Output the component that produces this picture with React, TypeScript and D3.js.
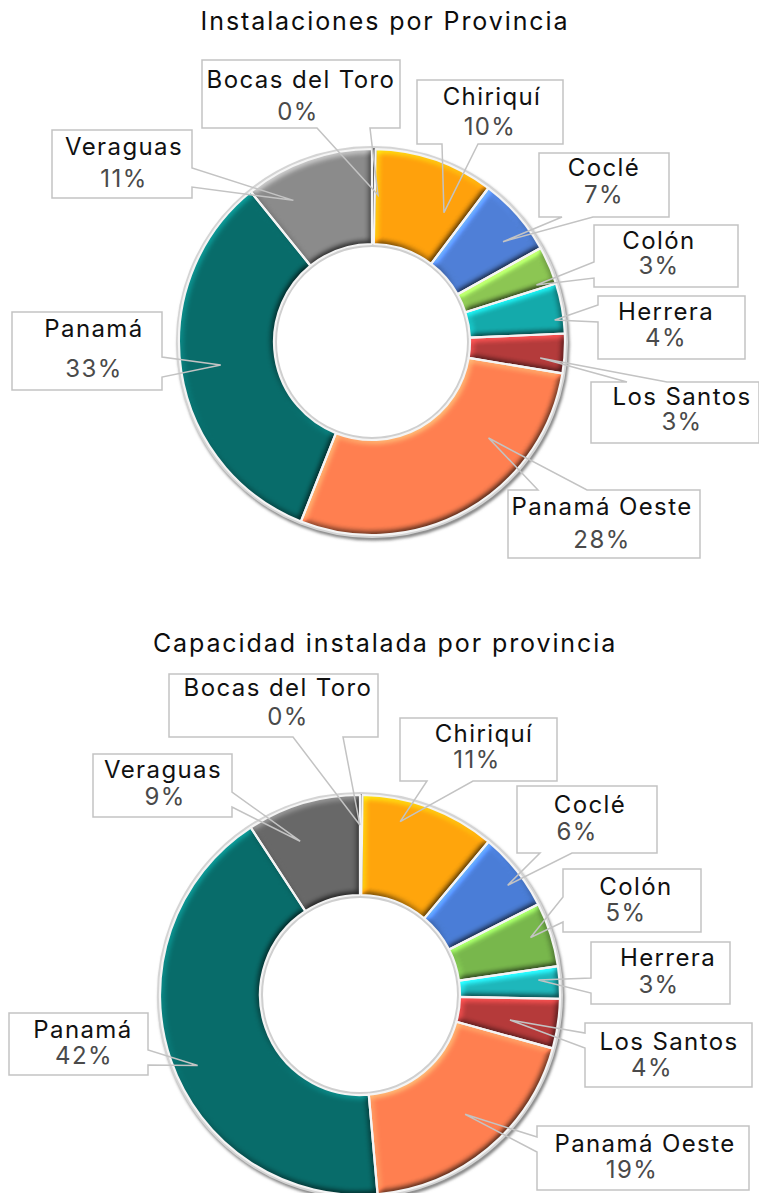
import React from 'react';
import * as d3 from 'd3';

// ---- data ----
const provinces = ['Bocas del Toro', 'Chiriquí', 'Coclé', 'Colón', 'Herrera', 'Los Santos', 'Panamá Oeste', 'Panamá', 'Veraguas'];
const installShares = [0.3, 10.0, 6.6, 3.2, 4.2, 3.3, 28.4, 33.2, 10.8];
const capacityShares = [0.2, 10.9, 6.4, 5.2, 2.6, 4.0, 19.3, 42.2, 9.2];
const chartTitles = ['Instalaciones por Provincia', 'Capacidad instalada por provincia'];

// ---- styles / layout ----
const colorsTop = ['#555555', '#ffa10c', '#4f7fd6', '#8cc653', '#14aaab', '#b43b3b', '#ff7f50', '#086c6a', '#8b8b8b'];
const colorsBottom = ['#4a4a4a', '#ffa50c', '#4a7dd6', '#78b74c', '#1eb7bb', '#b53a3a', '#ff7f50', '#086c6a', '#686868'];

type Lab = { box: number[]; side: string; base: number[]; nx: number; ny: number; px: number; py: number; da: number; rt: number };

const layoutTop: Lab[] = [
  { box: [202, 60, 198, 68], side: 'bottom', base: [317, 370], nx: 301, ny: 88, px: 298, py: 120, da: 1.8, rt: 147 },
  { box: [417, 80, 146, 64], side: 'bottom', base: [442, 478], nx: 492, ny: 105, px: 490, py: 135, da: 10, rt: 148 },
  { box: [539, 153, 130, 64], side: 'bottom', base: [562, 593], nx: 604, ny: 176, px: 604, py: 203, da: 3.6, rt: 165 },
  { box: [594, 225, 144, 62], side: 'left', base: [262, 278], nx: 659, ny: 249, px: 659, py: 274, da: 4.3, rt: 174 },
  { box: [598, 296, 147, 63], side: 'left', base: [305, 322], nx: 666, ny: 320, px: 666, py: 346, da: 3.2, rt: 184 },
  { box: [591, 382, 168, 61], side: 'top', base: [627, 667], nx: 682, ny: 405, px: 682, py: 430, da: 2, rt: 169 },
  { box: [508, 490, 192, 68], side: 'top', base: [538, 587], nx: 602, ny: 515, px: 602, py: 548, da: -21, rt: 151 },
  { box: [12, 312, 150, 78], side: 'right', base: [357, 377], nx: 94, ny: 337, px: 94, py: 377, da: 0, rt: 153 },
  { box: [52, 130, 140, 68], side: 'right', base: [168, 187], nx: 124, ny: 155, px: 124, py: 187, da: -9.6, rt: 162 },
];

const layoutBottom: Lab[] = [
  { box: [169, 674, 209, 63], side: 'bottom', base: [293, 343], nx: 278, ny: 696, px: 288, py: 725, da: -0.4, rt: 170 },
  { box: [400, 718, 157, 63], side: 'bottom', base: [427, 473], nx: 484, ny: 742, px: 477, py: 768, da: -7.3, rt: 178 },
  { box: [517, 786, 140, 67], side: 'bottom', base: [540, 572], nx: 590, ny: 813, px: 577, py: 840, da: 1.9, rt: 184 },
  { box: [563, 869, 138, 63], side: 'left', base: [897, 922], nx: 636, ny: 895, px: 626, py: 921, da: -1, rt: 180 },
  { box: [591, 942, 139, 62], side: 'left', base: [978, 993], nx: 668, ny: 966, px: 659, py: 993, da: -1.2, rt: 179 },
  { box: [585, 1023, 167, 64], side: 'left', base: [1033, 1048], nx: 669, ny: 1050, px: 652, py: 1076, da: 1.2, rt: 152 },
  { box: [537, 1126, 212, 64], side: 'left', base: [1137, 1152], nx: 645, ny: 1152, px: 632, py: 1178, da: -1.6, rt: 159 },
  { box: [9, 1013, 139, 62], side: 'right', base: [1050, 1065], nx: 83, ny: 1038, px: 84, py: 1064, da: -4.4, rt: 177 },
  { box: [93, 754, 139, 63], side: 'right', base: [792, 807], nx: 163, ny: 778, px: 165, py: 805, da: -4.7, rt: 165 },
];

const FONT = 'Inter, "Open Sans", sans-serif';

function calloutPath(L: Lab, tx: number, ty: number) {
  const [x, y, w, h] = L.box;
  const [a, b] = L.base;
  const p = d3.path();
  if (L.side === 'top') {
    p.moveTo(x, y); p.lineTo(a, y); p.lineTo(tx, ty); p.lineTo(b, y); p.lineTo(x + w, y); p.lineTo(x + w, y + h); p.lineTo(x, y + h); p.closePath();
  } else if (L.side === 'right') {
    p.moveTo(x, y); p.lineTo(x + w, y); p.lineTo(x + w, a); p.lineTo(tx, ty); p.lineTo(x + w, b); p.lineTo(x + w, y + h); p.lineTo(x, y + h); p.closePath();
  } else if (L.side === 'bottom') {
    p.moveTo(x, y); p.lineTo(x + w, y); p.lineTo(x + w, y + h); p.lineTo(b, y + h); p.lineTo(tx, ty); p.lineTo(a, y + h); p.lineTo(x, y + h); p.closePath();
  } else {
    p.moveTo(x, y); p.lineTo(x + w, y); p.lineTo(x + w, y + h); p.lineTo(x, y + h); p.lineTo(x, b); p.lineTo(tx, ty); p.lineTo(x, a); p.closePath();
  }
  return p.toString();
}

function Donut({ id, values, colors, layout, cx, cy, R, r, title, titleY }: any) {
  const pie = d3.pie<number>().sort(null).value((d) => d).startAngle(0).endAngle(2 * Math.PI);
  const arcs = pie(values);
  const arc = d3.arc<d3.PieArcDatum<number>>().innerRadius(r).outerRadius(R);
  const total = d3.sum(values);
  return (
    <g>
      <text x={385} y={titleY} textAnchor="middle" fontFamily={FONT} fontSize={25} letterSpacing={1.9} fill="#0d0d0d">{title}</text>
      <g transform={`translate(${cx},${cy})`}>
        <circle r={R + 1} fill="none" stroke="#7a7a7a" strokeWidth={4} filter={`url(#sh${id})`} transform="translate(1.5,2.5)" />
        <circle r={R + 1.5} fill="none" stroke="#d4d4d4" strokeWidth={3} />
        <circle r={r - 1.5} fill="none" stroke="#cfcfcf" strokeWidth={3} />
        {arcs.map((a, i) => (
          <path key={'s' + i} d={arc(a) || ''} fill={colors[i]} filter={`url(#bv${id})`} />
        ))}
        {arcs.map((a, i) => (
          <path key={'o' + i} d={arc(a) || ''} fill="none" stroke={i === 0 ? '#3a3a3a' : '#f4f4f4'} strokeWidth={i === 0 ? 1.5 : 2.2} strokeLinejoin="round" />
        ))}
      </g>
      {arcs.map((a, i) => {
        const L: Lab = layout[i];
        const ang = (a.startAngle + a.endAngle) / 2 + (L.da * Math.PI) / 180;
        const tx = cx + L.rt * Math.sin(ang);
        const ty = cy - L.rt * Math.cos(ang);
        const [x, y, w, h] = L.box;
        return (
          <g key={'l' + i}>
            <rect x={x} y={y} width={w} height={h} fill="#ffffff" />
            <path d={calloutPath(L, tx, ty)} fill="none" stroke="#c3c3c3" strokeWidth={1.5} strokeLinejoin="miter" />
            <text x={L.nx} y={L.ny} textAnchor="middle" fontFamily={FONT} fontSize={24} letterSpacing={1.4} fill="#111111">{provinces[i]}</text>
            <text x={L.px} y={L.py} textAnchor="middle" fontFamily={FONT} fontSize={24} letterSpacing={1.4} fill="#4a4a4a">{Math.round((values[i] / total) * 100) + '%'}</text>
          </g>
        );
      })}
    </g>
  );
}

function Defs({ id }: { id: string }) {
  return (
    <>
      <filter id={`bv${id}`} x="-10%" y="-10%" width="120%" height="120%" colorInterpolationFilters="sRGB">
        <feGaussianBlur in="SourceAlpha" stdDeviation="3" result="blur" />
        <feDiffuseLighting in="blur" surfaceScale="2.5" diffuseConstant="1" lightingColor="#ffffff" result="diff">
          <feDistantLight azimuth="235" elevation="30" />
        </feDiffuseLighting>
        <feComposite in="SourceGraphic" in2="diff" operator="arithmetic" k1="1.2" k2="0.4" k3="0" k4="0" result="lit" />
        <feComposite in="lit" in2="SourceAlpha" operator="in" />
      </filter>
      <filter id={`sh${id}`} x="-20%" y="-20%" width="140%" height="140%">
        <feGaussianBlur stdDeviation="1.5" />
      </filter>
    </>
  );
}

export default function App() {
  return (
    <svg width={759} height={1193} style={{ position: 'absolute', left: 0, top: 0, background: '#ffffff' }}>
      <defs>
        <Defs id="a" />
        <Defs id="b" />
      </defs>
      <rect width={759} height={1193} fill="#ffffff" />
      <Donut id="a" values={installShares} colors={colorsTop} layout={layoutTop} cx={372} cy={342} R={193} r={98} title={chartTitles[0]} titleY={30} />
      <Donut id="b" values={capacityShares} colors={colorsBottom} layout={layoutBottom} cx={360} cy={995} R={200} r={100} title={chartTitles[1]} titleY={652} />
    </svg>
  );
}
